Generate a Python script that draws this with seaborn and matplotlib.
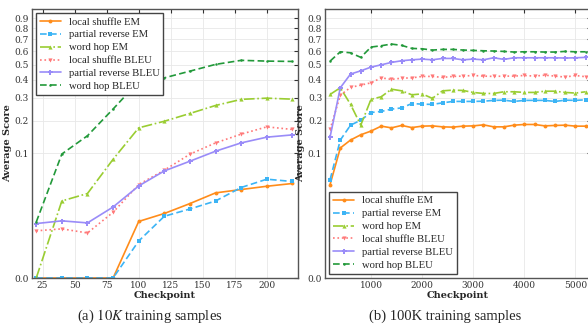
import numpy as np
import pandas as pd
import matplotlib
matplotlib.use("Agg")
import matplotlib.pyplot as plt
import seaborn as sns

# checkpoints
ckpt_10k = [20, 40, 60, 80, 100, 120, 140, 160, 180, 200, 220]
ckpt_100k = list(range(200, 5201, 200))

# 10K training samples
local_shuffle_em_10k = [0.0, 0.0, 0.0, 0.0, 0.0093, 0.0138, 0.0212, 0.0317, 0.0356, 0.0397, 0.0434]
partial_reverse_em_10k = [0.0, 0.0, 0.0, 0.0, 0.0026, 0.0121, 0.0169, 0.0235, 0.0381, 0.0496, 0.0462]
word_hop_em_10k = [0.0, 0.0235, 0.031, 0.086, 0.174, 0.198, 0.229, 0.264, 0.293, 0.299, 0.294]
local_shuffle_bleu_10k = [0.0054, 0.0061, 0.0047, 0.0146, 0.042, 0.0644, 0.0976, 0.1268, 0.153, 0.1775, 0.1685]
partial_reverse_bleu_10k = [0.0083, 0.0096, 0.0086, 0.0184, 0.0401, 0.0631, 0.0819, 0.1048, 0.1268, 0.1436, 0.1507]
word_hop_bleu_10k = [0.009, 0.098, 0.148, 0.248, 0.39, 0.412, 0.455, 0.501, 0.53, 0.5245, 0.522]

# 100K training samples
local_shuffle_em_100k = [0.042, 0.113, 0.135, 0.151, 0.163, 0.18, 0.174, 0.1825, 0.175, 0.18, 0.181,
                         0.1775, 0.1765, 0.18, 0.181, 0.1846, 0.1775, 0.1775, 0.1835, 0.186, 0.186,
                         0.181, 0.1825, 0.1835, 0.18, 0.18]
partial_reverse_em_100k = [0.049, 0.135, 0.1835, 0.202, 0.233, 0.2375, 0.2475, 0.253, 0.273, 0.270,
                           0.269, 0.276, 0.283, 0.283, 0.283, 0.284, 0.288, 0.289, 0.283, 0.288,
                           0.288, 0.288, 0.283, 0.289, 0.288, 0.291]
word_hop_em_100k = [0.318, 0.354, 0.269, 0.1835, 0.293, 0.306, 0.346, 0.337, 0.316, 0.321, 0.298,
                    0.337, 0.341, 0.339, 0.3285, 0.323, 0.323, 0.332, 0.332, 0.3285, 0.3285,
                    0.335, 0.335, 0.3285, 0.325, 0.332]
local_shuffle_bleu_100k = [0.1685, 0.314, 0.356, 0.369, 0.382, 0.412, 0.403, 0.41, 0.412, 0.421, 0.421,
                           0.415, 0.421, 0.423, 0.427, 0.423, 0.421, 0.423, 0.423, 0.427, 0.423,
                           0.429, 0.423, 0.417, 0.427, 0.419]
partial_reverse_bleu_100k = [0.1445, 0.354, 0.436, 0.457, 0.482, 0.498, 0.515, 0.527, 0.534, 0.539,
                             0.534, 0.544, 0.544, 0.534, 0.539, 0.534, 0.549, 0.537, 0.549, 0.549,
                             0.549, 0.549, 0.549, 0.547, 0.549, 0.552]
word_hop_bleu_100k = [0.5245, 0.595, 0.587, 0.552, 0.633, 0.644, 0.658, 0.647, 0.622, 0.619, 0.6085,
                      0.614, 0.614, 0.609, 0.606, 0.603, 0.601, 0.598, 0.593, 0.595, 0.595,
                      0.593, 0.593, 0.598, 0.595, 0.595]

names = ["local shuffle EM", "partial reverse EM", "word hop EM",
         "local shuffle BLEU", "partial reverse BLEU", "word hop BLEU"]
colors = ["#ff8c1a", "#3cb4f5", "#9acd32", "#ff7878", "#9a8cf8", "#22993a"]
styles = ["-", (0, (4, 2)), "-.", ":", "-", (0, (4, 2))]
markers = ["o", "s", "^", "v", "P", "."]
msizes = [2.8, 3.2, 3.0, 3.0, 3.6, 3.6]

data_10k = [local_shuffle_em_10k, partial_reverse_em_10k, word_hop_em_10k,
            local_shuffle_bleu_10k, partial_reverse_bleu_10k, word_hop_bleu_10k]
data_100k = [local_shuffle_em_100k, partial_reverse_em_100k, word_hop_em_100k,
             local_shuffle_bleu_100k, partial_reverse_bleu_100k, word_hop_bleu_100k]

sns.set_style("whitegrid")
plt.rcParams["font.family"] = ["DejaVu Serif"]
plt.rcParams["mathtext.fontset"] = "stix"

fig = plt.figure(figsize=(5.88, 3.29), dpi=100)
ax1 = fig.add_axes([0.054, 0.155, 0.452, 0.8175])
ax2 = fig.add_axes([0.5527, 0.155, 0.452, 0.8175])


def draw(ax, x, series, xlim, xticks, loc):
    for vals, name, c, ls, m, ms in zip(series, names, colors, styles, markers, msizes):
        sns.lineplot(x=x, y=vals, ax=ax, color=c, linestyle=ls, marker=m,
                     markersize=ms, markeredgewidth=0, linewidth=1.2, label=name)
    ax.set_yscale("function", functions=(np.cbrt, lambda v: v ** 3))
    ax.set_ylim(0, 1.0)
    ax.set_yticks([0.0, 0.1, 0.2, 0.3, 0.4, 0.5, 0.6, 0.7, 0.8, 0.9])
    ax.set_yticklabels(["0.0", "0.1", "0.2", "0.3", "0.4", "0.5", "0.6", "0.7", "0.8", "0.9"])
    ax.set_xlim(*xlim)
    ax.set_xticks(xticks)
    ax.grid(True, color="#e8e8e8", linewidth=0.6)
    ax.tick_params(direction="in", length=3, width=0.8, top=True, right=True,
                   labelsize=6.5, colors="#333333", pad=2)
    for s in ax.spines.values():
        s.set_color("#555555")
        s.set_linewidth(1.0)
    ax.set_xlabel("Checkpoint", fontsize=7, fontweight="bold", labelpad=1)
    ax.set_ylabel("Average Score", fontsize=7, fontweight="bold", labelpad=2)
    leg = ax.legend(loc=loc, frameon=True, fancybox=False,
                    prop={"family": "Liberation Serif", "size": 7.7},
                    handlelength=2.0, borderpad=0.35, labelspacing=0.32,
                    handletextpad=0.7, borderaxespad=0.4)
    leg.get_frame().set_edgecolor("#444444")
    leg.get_frame().set_linewidth(1.0)
    leg.get_frame().set_alpha(1.0)


draw(ax1, ckpt_10k, data_10k, (16.5, 224), [25, 50, 75, 100, 125, 150, 175, 200], "upper left")
draw(ax2, ckpt_100k, data_100k, (100, 5300), [1000, 2000, 3000, 4000, 5000], "lower left")

fig.text(0.255, 0.028, "(a) $10K$ training samples", ha="center", fontsize=10.5,
         family=["Liberation Serif", "DejaVu Serif"])
fig.text(0.757, 0.028, "(b) 100K training samples", ha="center", fontsize=10.5,
         family=["Liberation Serif", "DejaVu Serif"])

fig.savefig("out.png", dpi=100)
